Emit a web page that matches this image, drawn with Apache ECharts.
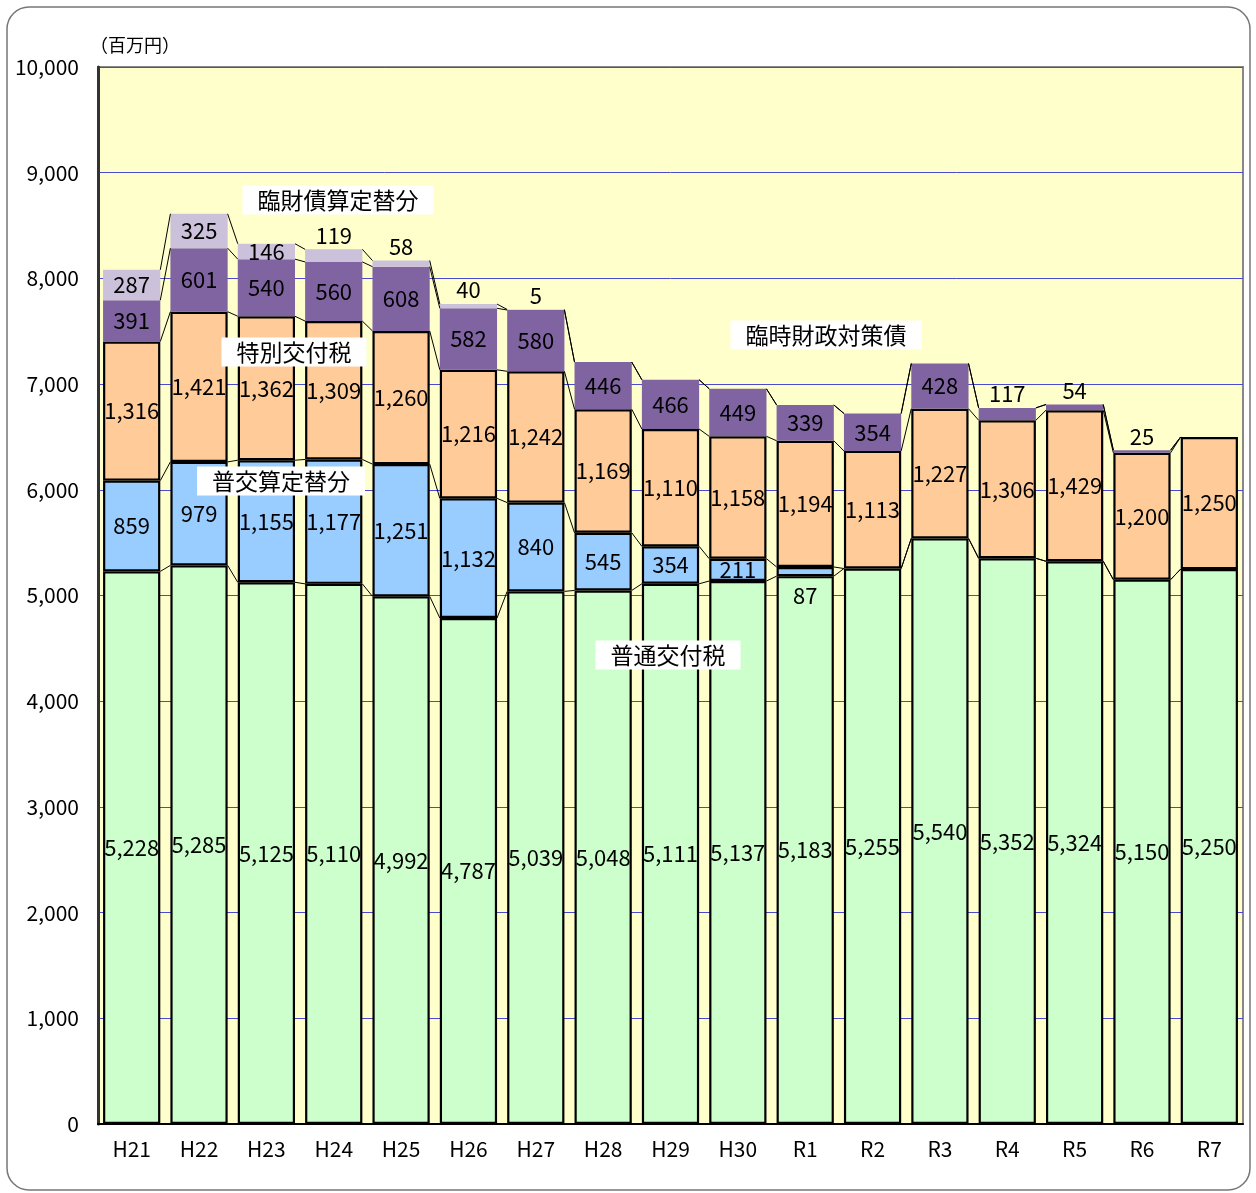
<!DOCTYPE html>
<html>
<head>
<meta charset="utf-8">
<script src="https://cdn.jsdelivr.net/npm/echarts@6/dist/echarts.min.js"></script>
<style>
  html, body { margin: 0; padding: 0; background: #fff; }
  #chart { width: 1256px; height: 1193px; }
</style>
</head>
<body>
<div id="chart"></div>
<script>
// 年度
const years = ['H21','H22','H23','H24','H25','H26','H27','H28','H29','H30','R1','R2','R3','R4','R5','R6','R7']

// 単位：百万円（下から積み上げ）
const futsuKofuzei   = [5228, 5285, 5125, 5110, 4992, 4787, 5039, 5048, 5111, 5137, 5183, 5255, 5540, 5352, 5324, 5150, 5250]
const futsuSanteigae = [859, 979, 1155, 1177, 1251, 1132, 840, 545, 354, 211, 87, 0, 0, 0, 0, 0, 0]
const tokubetsu      = [1316, 1421, 1362, 1309, 1260, 1216, 1242, 1169, 1110, 1158, 1194, 1113, 1227, 1306, 1429, 1200, 1250]
const rinzaisai      = [391, 601, 540, 560, 608, 582, 580, 446, 466, 449, 339, 354, 428, 117, 54, 25, 0]
const rinzaiSanteigae = [287, 325, 146, 119, 58, 40, 5, 0, 0, 0, 0, 0, 0, 0, 0, 0, 0]

const yTicks = [0, 1000, 2000, 3000, 4000, 5000, 6000, 7000, 8000, 9000, 10000]

const FONT = '"Noto Sans CJK JP", "Noto Sans", sans-serif'
const GAP = 0.15

const fmt = (v) => String(v).replace(/\B(?=(\d{3})+(?!\d))/g, ',')

const layers = [
  { name: '普通交付税', data: futsuKofuzei, color: '#CCFFCC', border: true },
  { name: '普交算定替分', data: futsuSanteigae, color: '#99CCFF', border: true, smallPos: 'bottom' },
  { name: '特別交付税', data: tokubetsu, color: '#FFCC99', border: true },
  { name: '臨時財政対策債', data: rinzaisai, color: '#8064A2', border: false, smallPos: 'top' },
  { name: '臨財債算定替分', data: rinzaiSanteigae, color: '#CCC1DA', border: false, smallPos: 'top' }
]

const barSeries = layers.map((l) => ({
  name: l.name,
  type: 'bar',
  stack: 'total',
  barCategoryGap: (GAP * 100) + '%',
  itemStyle: l.border
    ? { color: l.color, borderColor: '#000', borderWidth: 2.2 }
    : { color: l.color, borderWidth: 0 },
  label: {
    show: true, position: 'inside', color: '#000',
    fontFamily: FONT, fontSize: 22,
    formatter: (p) => fmt(p.value)
  },
  data: l.data.map((v) => {
    if (!v) return '-'
    if (v < 130 && l.smallPos) {
      return { value: v, label: { position: l.smallPos, distance: l.smallPos === 'bottom' ? 8 : 3 } }
    }
    return v
  })
}))

// 積み上げ上端（系列線用）
const cum = years.map((_, i) => {
  let s = 0
  return layers.map((l) => (s += l.data[i]))
})
const lineData = years.slice(0, -1).map((_, i) => [i].concat(cum[i], cum[i + 1]))

const seriesLines = {
  type: 'custom',
  silent: true,
  z: 5,
  data: lineData,
  encode: { x: 0, y: 1 },
  renderItem: (params, api) => {
    const i = api.value(0)
    const half = api.size([1, 0])[0] * (1 - GAP) / 2
    const children = []
    for (let k = 0; k < layers.length; k++) {
      const a = api.coord([i, api.value(1 + k)])
      const b = api.coord([i + 1, api.value(1 + layers.length + k)])
      children.push({
        type: 'line',
        shape: { x1: a[0] + half, y1: a[1], x2: b[0] - half, y2: b[1] },
        style: { stroke: '#000', lineWidth: 1 }
      })
    }
    return { type: 'group', children }
  }
}

const note = (text, x, y) => ({
  type: 'text', x, y, z: 100,
  style: {
    text, fill: '#000', font: '23px ' + FONT,
    align: 'center', verticalAlign: 'middle',
    backgroundColor: '#fff', padding: [3, 15]
  }
})

const chart = echarts.init(document.getElementById('chart'))
chart.setOption({
  backgroundColor: '#fff',
  animation: false,
  grid: {
    left: 98, right: 13, top: 67, bottom: 69,
    show: true, backgroundColor: '#FFFFCC', borderColor: '#888', borderWidth: 2
  },
  xAxis: {
    type: 'category', data: years,
    axisLine: { lineStyle: { color: '#000', width: 2 } },
    axisTick: { inside: true, length: 6, lineStyle: { color: '#000' } },
    axisLabel: { color: '#000', fontFamily: FONT, fontSize: 21, margin: 15 }
  },
  yAxis: {
    type: 'value', min: yTicks[0], max: yTicks[yTicks.length - 1], interval: yTicks[1] - yTicks[0],
    axisLine: { show: true, lineStyle: { color: '#333', width: 3 } },
    axisTick: { show: false },
    splitLine: { lineStyle: { color: '#4a4ad0', width: 1 } },
    axisLabel: { color: '#000', fontFamily: FONT, fontSize: 21, margin: 19, formatter: (v) => fmt(v) }
  },
  graphic: [
    {
      type: 'rect', shape: { x: 7, y: 7, width: 1243, height: 1183, r: 22 },
      style: { fill: 'none', stroke: '#777', lineWidth: 1.5 }, z: -10
    },
    { type: 'text', x: 90, y: 36, style: { text: '（百万円）', fill: '#000', font: '18px ' + FONT } },
    note('臨財債算定替分', 338, 200),
    note('特別交付税', 294, 352),
    note('普交算定替分', 281, 481),
    note('臨時財政対策債', 826, 335),
    note('普通交付税', 668, 655)
  ],
  series: barSeries.concat([seriesLines])
})
</script>
</body>
</html>
